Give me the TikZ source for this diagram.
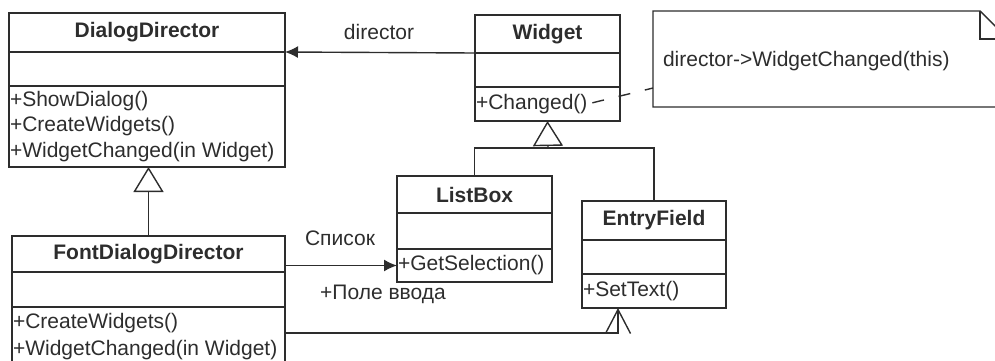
\documentclass[tikz,border=0pt]{standalone}
\usepackage{fontspec}
\setmainfont{Liberation Sans}
\usetikzlibrary{arrows.meta,positioning}
\definecolor{umlink}{RGB}{45,45,45}

\begin{document}
\begin{tikzpicture}[x=1pt,y=-1pt,line width=1.4pt,draw=umlink,
 every node/.style={font=\fontsize{21}{25}\selectfont,text=umlink,outer sep=0pt},
 hdr/.style={draw=umlink,inner sep=0pt,font=\fontsize{21}{25}\selectfont\bfseries},
 part/.style={draw=umlink,inner sep=0pt},
 op/.style={anchor=west,inner sep=0pt},
 assoc/.style={-{Latex[length=13pt,width=12pt]}},
 inherit/.style={-{Triangle[open,length=25pt,width=30pt,fill=white]}}]
\useasboundingbox (0,0) rectangle (995,360);
\clip (0,0) rectangle (995,360);
% DialogDirector
\node[hdr,minimum width=276,minimum height=39] (dd) at (147,32.5) {DialogDirector};
\node[part,minimum width=276,minimum height=34,below=0pt of dd] (ddattr) {};
\node[part,minimum width=276,minimum height=81,below=0pt of ddattr] (ddops) {};
\node[op] (dd1) at (10,101) {+ShowDialog()};
\node[op] (dd2) at (10,126) {+CreateWidgets()};
\node[op] (dd3) at (10,152) {+WidgetChanged(in Widget)};
% Widget
\node[hdr,minimum width=145,minimum height=38] (wg) at (547.5,34) {Widget};
\node[part,minimum width=145,minimum height=34,below=0pt of wg] (wgattr) {};
\node[part,minimum width=145,minimum height=34,below=0pt of wgattr] (wgops) {};
\node[op] (wg1) at (476,104) {+Changed()};
% ListBox
\node[hdr,minimum width=155,minimum height=37] (lb) at (474.5,194.5) {ListBox};
\node[part,minimum width=155,minimum height=36,below=0pt of lb] (lbattr) {};
\node[part,minimum width=155,minimum height=33,below=0pt of lbattr] (lbops) {};
\node[op] (lb1) at (398,265) {+GetSelection()};
% EntryField
\node[hdr,minimum width=144,minimum height=39] (ef) at (654,220.5) {EntryField};
\node[part,minimum width=144,minimum height=34,below=0pt of ef] (efattr) {};
\node[part,minimum width=144,minimum height=34,below=0pt of efattr] (efops) {};
\node[op] (ef1) at (583,291) {+SetText()};
% FontDialogDirector
\node[hdr,minimum width=273,minimum height=36] (fdd) at (148.5,254) {FontDialogDirector};
\node[part,minimum width=273,minimum height=35,below=0pt of fdd] (fddattr) {};
\node[part,minimum width=273,minimum height=70,below=0pt of fddattr] (fddops) {};
\node[op] (fdd1) at (13,323) {+CreateWidgets()};
\node[op] (fdd2) at (13,350) {+WidgetChanged(in Widget)};
% note
\draw (653,11) -- (980,11) -- (1008,39) -- (1008,107) -- (653,107) -- cycle;
\draw (980,11) -- (980,39) -- (1008,39);
\node[op] (nt) at (663,61) {director->WidgetChanged(this)};
\coordinate (notein) at (653,88);
\draw[dash pattern=on 12pt off 15pt,shorten <=5pt] (wg1.east) -- (notein);
% connectors
\draw[assoc] (wg.south west) -- (dd.south east);
\node (dirlbl) at (379,32) {director};
\draw[inherit] (fdd.north) -- (fdd.north |- ddops.south);
\coordinate (jn) at (548,148);
\draw (lb.north) |- (jn) -| (ef.north);
\draw[inherit] (jn) -- (wgops.south);
\draw[assoc] (lbops.west -| fdd.east) -- (lbops.west);
\node (lstlbl) at (340,238) {Список};
\node (fldlbl) at (383,294) {+Поле ввода};
\coordinate (efin) at (618,333);
\draw[-{Straight Barb[length=24pt,width=25pt]}] (fddops.east |- efin) -- (efin) -- (efops.south -| efin);
\end{tikzpicture}
\end{document}
